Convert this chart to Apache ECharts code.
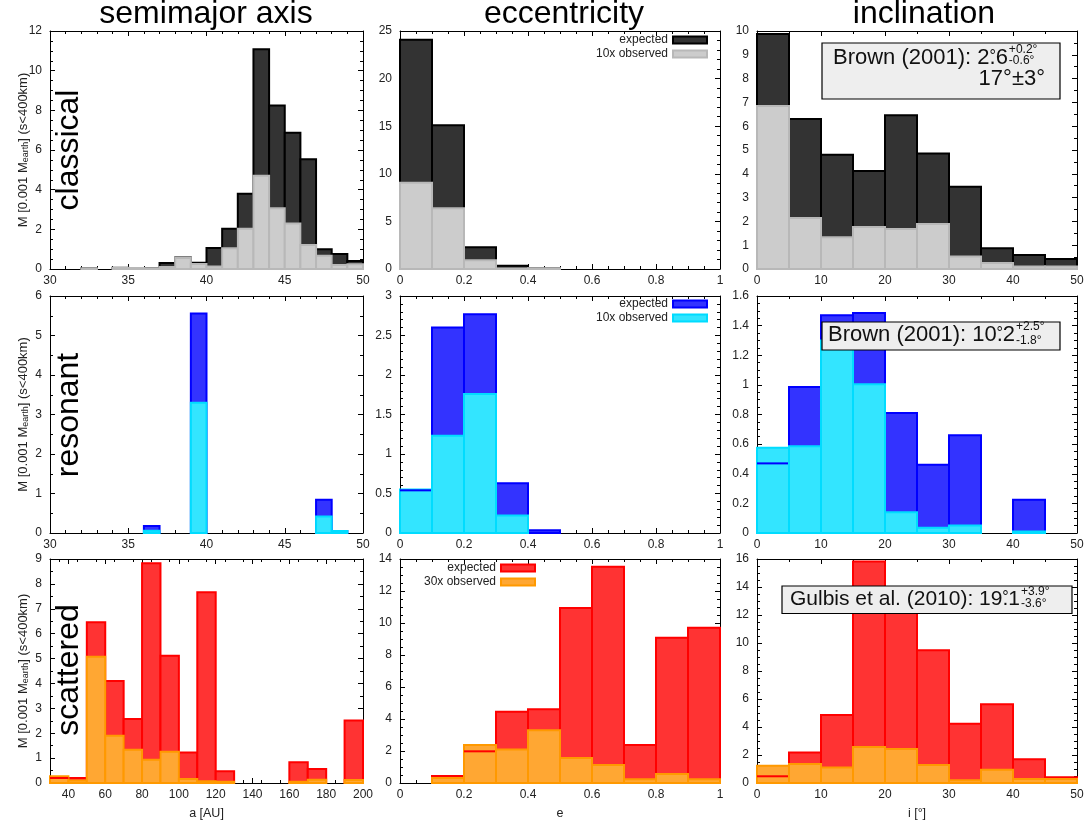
<!DOCTYPE html>
<html>
<head>
<meta charset="utf-8">
<script src="https://cdn.jsdelivr.net/npm/echarts@6/dist/echarts.min.js"></script>
<style>
  html, body { margin: 0; padding: 0; background: #fff; }
  #chart { width: 1089px; height: 827px; }
</style>
</head>
<body>
<div id="chart"></div>
<script>
const FONT = '"Liberation Sans", Arial, Helvetica, sans-serif';

// ---- histogram bins (left edges) ----
const aBins = [30, 31, 32, 33, 34, 35, 36, 37, 38, 39, 40, 41, 42, 43, 44, 45, 46, 47, 48, 49];
const aBinWidth = 1;
const aBinsScattered = [30, 40, 50, 60, 70, 80, 90, 100, 110, 120, 130, 140, 150, 160, 170, 180, 190];
const aBinWidthScattered = 10;
const eBins = [0, 0.1, 0.2, 0.3, 0.4, 0.5, 0.6, 0.7, 0.8, 0.9];
const eBinWidth = 0.1;
const iBins = [0, 5, 10, 15, 20, 25, 30, 35, 40, 45];
const iBinWidth = 5;

// ---- mass per bin, M [0.001 M_earth] ----
const classicalAExpected = [0, 0, 0.03, 0, 0.06, 0.05, 0.03, 0.30, 0.58, 0.32, 1.06, 2.03, 3.80, 11.08, 8.25, 6.87, 5.53, 0.99, 0.76, 0.40];
const classicalAObserved = [0, 0, 0.03, 0, 0.06, 0.05, 0.03, 0.10, 0.55, 0.25, 0.12, 1.04, 2.03, 4.70, 3.06, 2.29, 1.21, 0.67, 0.20, 0.24];
const classicalEExpected = [24.09, 15.09, 2.28, 0.35, 0.07, 0, 0, 0, 0, 0];
const classicalEObserved = [9.07, 6.37, 0.91, 0.05, 0.07, 0, 0, 0, 0, 0];
const classicalIExpected = [9.87, 6.30, 4.80, 4.12, 6.46, 4.85, 3.46, 0.87, 0.59, 0.42];
const classicalIObserved = [6.85, 2.14, 1.33, 1.76, 1.68, 1.89, 0.52, 0.25, 0.10, 0.10];

const resonantAExpected = [0, 0, 0, 0, 0, 0, 0.18, 0, 0, 5.56, 0, 0, 0, 0, 0, 0, 0, 0.84, 0.05, 0];
const resonantAObserved = [0, 0, 0, 0, 0, 0, 0.06, 0, 0, 3.30, 0, 0, 0, 0, 0, 0, 0, 0.42, 0.05, 0];
const resonantEExpected = [0.54, 2.60, 2.77, 0.63, 0.035, 0, 0, 0, 0, 0];
const resonantEObserved = [0.55, 1.23, 1.76, 0.22, 0, 0, 0, 0, 0, 0];
const resonantIExpected = [0.47, 0.985, 1.47, 1.486, 0.81, 0.46, 0.66, 0, 0.225, 0];
const resonantIObserved = [0.575, 0.586, 1.30, 1.005, 0.14, 0.036, 0.05, 0, 0.01, 0];

const scatteredAExpected = [0.20, 0.20, 6.46, 4.10, 2.57, 8.83, 5.11, 1.23, 7.66, 0.47, 0, 0, 0, 0.83, 0.56, 0, 2.51];
const scatteredAObserved = [0.27, 0.10, 5.07, 1.90, 1.34, 0.93, 1.26, 0.16, 0.07, 0.05, 0, 0, 0, 0.05, 0.13, 0, 0.12];
const scatteredEExpected = [0, 0.44, 1.98, 4.46, 4.61, 10.93, 13.52, 2.38, 9.08, 9.70];
const scatteredEObserved = [0, 0.31, 2.38, 2.09, 3.30, 1.56, 1.13, 0.23, 0.56, 0.23];
const scatteredIExpected = [0.48, 2.17, 4.86, 15.83, 13.0, 9.49, 4.24, 5.63, 1.69, 0.41];
const scatteredIObserved = [1.24, 1.36, 1.10, 2.58, 2.43, 1.29, 0.19, 0.95, 0.29, 0.29];

// ---- labels ----
const columnTitles = ['semimajor axis', 'eccentricity', 'inclination'];
const rowNames = ['classical', 'resonant', 'scattered'];
const observedNames = ['10x observed', '10x observed', '30x observed'];
const xAxisNames = ['a [AU]', 'e', 'i [°]'];
const scatteredATicks = [40, 60, 80, 100, 120, 140, 160, 180, 200];

const panels = [
  [
    { bins: aBins, width: aBinWidth, exp: classicalAExpected, obs: classicalAObserved },
    { bins: eBins, width: eBinWidth, exp: classicalEExpected, obs: classicalEObserved },
    { bins: iBins, width: iBinWidth, exp: classicalIExpected, obs: classicalIObserved }
  ],
  [
    { bins: aBins, width: aBinWidth, exp: resonantAExpected, obs: resonantAObserved },
    { bins: eBins, width: eBinWidth, exp: resonantEExpected, obs: resonantEObserved },
    { bins: iBins, width: iBinWidth, exp: resonantIExpected, obs: resonantIObserved }
  ],
  [
    { bins: aBinsScattered, width: aBinWidthScattered, exp: scatteredAExpected, obs: scatteredAObserved },
    { bins: eBins, width: eBinWidth, exp: scatteredEExpected, obs: scatteredEObserved },
    { bins: iBins, width: iBinWidth, exp: scatteredIExpected, obs: scatteredIObserved }
  ]
];

// ---- layout and styling ----
const gridLeft = [50, 400, 757];
const gridWidth = [313, 320, 320];
const gridTop = [31, 296, 559];
const gridHeight = [238, 237, 224];

const xSpecs = [
  [{ min: 30, max: 50, interval: 5, minor: 5 }, { min: 0, max: 1, interval: 0.2, minor: 4 }, { min: 0, max: 50, interval: 10, minor: 2 }],
  [{ min: 30, max: 50, interval: 5, minor: 5 }, { min: 0, max: 1, interval: 0.2, minor: 4 }, { min: 0, max: 50, interval: 10, minor: 2 }],
  [{ min: 30, max: 200, interval: 10, minor: 2, ticks: scatteredATicks }, { min: 0, max: 1, interval: 0.2, minor: 4 }, { min: 0, max: 50, interval: 10, minor: 2 }]
];
const ySpecs = [
  [{ max: 12, interval: 2, minor: 4 }, { max: 25, interval: 5, minor: 5 }, { max: 10, interval: 1, minor: 2 }],
  [{ max: 6, interval: 1, minor: 2 }, { max: 3, interval: 0.5, minor: 5 }, { max: 1.6, interval: 0.2, minor: 4 }],
  [{ max: 9, interval: 1, minor: 2 }, { max: 14, interval: 2, minor: 4 }, { max: 16, interval: 2, minor: 4 }]
];

const palettes = [
  { expFill: '#333333', expStroke: '#000000', obsFill: '#cccccc', obsStroke: '#b8b8b8' },
  { expFill: '#3333ff', expStroke: '#0000ff', obsFill: '#33e5ff', obsStroke: '#00dcff' },
  { expFill: '#ff3333', expStroke: '#ff0000', obsFill: '#ffa733', obsStroke: '#ff9900' }
];

// One rectangle per bin: [left edge, right edge, value, (expected value)]
function histRenderer(fill, stroke, overlayStroke) {
  return function (params, api) {
    const x0 = api.value(0), x1 = api.value(1), v = api.value(2);
    if (!(v > 0)) return null;
    const tl = api.coord([x0, v]);
    const br = api.coord([x1, 0]);
    const children = [{
      type: 'rect',
      shape: { x: tl[0], y: tl[1], width: br[0] - tl[0], height: br[1] - tl[1] },
      style: { fill: fill, stroke: stroke, lineWidth: 2 }
    }];
    if (overlayStroke) {
      const e = api.value(3);
      if (e > 0 && e < v) {
        const a = api.coord([x0, e]);
        const b = api.coord([x1, e]);
        children.push({
          type: 'line',
          shape: { x1: a[0], y1: a[1], x2: b[0], y2: b[1] },
          style: { stroke: overlayStroke, lineWidth: 2 }
        });
      }
    }
    return { type: 'group', children: children };
  };
}

function axisCommon(spec, showLabels) {
  const ax = {
    type: 'value',
    min: spec.min !== undefined ? spec.min : 0,
    max: spec.max,
    interval: spec.interval,
    axisLine: { show: true, onZero: false, lineStyle: { color: '#000', width: 1 } },
    axisTick: { show: true, inside: true, length: 5, lineStyle: { color: '#000', width: 1 } },
    minorTick: { show: true, splitNumber: spec.minor, length: 3, lineStyle: { color: '#000', width: 1 } },
    splitLine: { show: false },
    minorSplitLine: { show: false },
    axisLabel: { show: showLabels, fontSize: 12, color: '#222', fontFamily: FONT }
  };
  if (spec.ticks) {
    ax.axisLabel.customValues = spec.ticks;
    ax.axisTick.customValues = spec.ticks;
  }
  return ax;
}

const grids = [], xAxes = [], yAxes = [], series = [];

for (let r = 0; r < 3; r++) {
  for (let c = 0; c < 3; c++) {
    const g = r * 3 + c;
    grids.push({ left: gridLeft[c], top: gridTop[r], width: gridWidth[c], height: gridHeight[r], containLabel: false });

    const xb = axisCommon(xSpecs[r][c], true);
    xb.gridIndex = g; xb.position = 'bottom';
    xb.axisLabel.margin = 6;
    if (r === 2) {
      xb.name = xAxisNames[c];
      xb.nameLocation = 'middle';
      xb.nameGap = 24;
      xb.nameMoveOverlap = false;
      xb.nameTextStyle = { fontSize: 12.5, color: '#222', fontFamily: FONT };
    }
    const xt = axisCommon(xSpecs[r][c], false);
    xt.gridIndex = g; xt.position = 'top';
    xAxes.push(xb, xt);

    const yl = axisCommon(ySpecs[r][c], true);
    yl.gridIndex = g; yl.position = 'left';
    yl.axisLabel.margin = 8;
    if (c === 0) {
      yl.name = 'M [0.001 M{sub|earth}] (s<400km)';
      yl.nameLocation = 'middle';
      yl.nameGap = 20;
      yl.nameMoveOverlap = false;
      yl.nameRotate = 90;
      yl.nameTextStyle = {
        fontSize: 13, color: '#222', fontFamily: FONT,
        rich: { sub: { fontSize: 9, color: '#222', fontFamily: FONT, verticalAlign: 'bottom', padding: [5, 0, 0, 0] } }
      };
    }
    const yr = axisCommon(ySpecs[r][c], false);
    yr.gridIndex = g; yr.position = 'right';
    yAxes.push(yl, yr);

    const p = panels[r][c];
    const pal = palettes[r];
    const expData = p.bins.map((x, i) => [x, x + p.width, p.exp[i]]);
    const obsData = p.bins.map((x, i) => [x, x + p.width, p.obs[i], p.exp[i]]);
    series.push({
      type: 'custom', name: rowNames[r] + ' expected',
      xAxisIndex: 2 * g, yAxisIndex: 2 * g,
      encode: { x: [0, 1], y: 2 },
      itemStyle: { color: pal.expFill },
      renderItem: histRenderer(pal.expFill, pal.expStroke, null),
      data: expData, z: 2
    });
    series.push({
      type: 'custom', name: rowNames[r] + ' ' + observedNames[r],
      xAxisIndex: 2 * g, yAxisIndex: 2 * g,
      encode: { x: [0, 1], y: 2 },
      itemStyle: { color: pal.obsFill },
      renderItem: histRenderer(pal.obsFill, pal.obsStroke, pal.expStroke),
      data: obsData, z: 3
    });
  }
}

function legendFor(r, pos) {
  const pal = palettes[r];
  return Object.assign({
    orient: 'vertical', align: 'right', padding: 0, itemGap: 2,
    itemWidth: 34, itemHeight: 7, selectedMode: false,
    textStyle: { fontSize: 12, color: '#222', fontFamily: FONT },
    formatter: name => name.slice(name.indexOf(' ') + 1),
    data: [
      { name: rowNames[r] + ' expected', icon: 'rect', itemStyle: { color: pal.expFill, borderColor: pal.expStroke, borderWidth: 2 } },
      { name: rowNames[r] + ' ' + observedNames[r], icon: 'rect', itemStyle: { color: pal.obsFill, borderColor: pal.obsStroke, borderWidth: 2 } }
    ]
  }, pos);
}

const legends = [
  legendFor(0, { right: 381, top: 34 }),
  legendFor(1, { right: 381, top: 298 }),
  legendFor(2, { right: 553, top: 562 })
];

// ---- titles, row labels and literature values ----
const graphics = [];
const titleX = [206, 564, 924];
columnTitles.forEach((t, i) => graphics.push({
  type: 'text', x: titleX[i], y: 14, z: 10,
  style: { text: t, font: '32px ' + FONT, fill: '#000', align: 'center', verticalAlign: 'middle' }
}));
const rowLabelY = [150, 415, 670];
rowNames.forEach((t, i) => graphics.push({
  type: 'text', x: 69, y: rowLabelY[i], rotation: Math.PI / 2, z: 10,
  style: { text: t, font: '32px ' + FONT, fill: '#000', align: 'center', verticalAlign: 'middle' }
}));

const measureCtx = document.createElement('canvas').getContext('2d');
function textWidth(text, font) {
  measureCtx.font = font;
  return measureCtx.measureText(text).width;
}

// Literature value: "<lead><int>°.<frac>" followed by stacked +/- errors
function noteBox(box, note) {
  const font = note.size + 'px ' + FONT;
  const mainText = note.lead + note.whole + '.' + note.frac;
  const preDot = textWidth(note.lead + note.whole, font);
  const dotW = textWidth('.', font);
  const mainW = textWidth(mainText, font);
  const Z = 100;
  const children = [
    { type: 'rect', z: Z, shape: box, style: { fill: '#eeeeee', stroke: '#000', lineWidth: 1.2 } },
    { type: 'text', z: Z + 1, x: note.x, y: note.y,
      style: { text: mainText, font: font, fill: '#111', align: 'left', verticalAlign: 'middle' } },
    { type: 'text', z: Z + 1, x: note.x + preDot + dotW / 2, y: note.y - 1,
      style: { text: '°', font: '16px ' + FONT, fill: '#111', align: 'center', verticalAlign: 'middle' } },
    { type: 'text', z: Z + 1, x: note.x + mainW + 1, y: note.supY,
      style: { text: note.sup, font: '12px ' + FONT, fill: '#111', align: 'left', verticalAlign: 'middle' } },
    { type: 'text', z: Z + 1, x: note.x + mainW + 1, y: note.subY,
      style: { text: note.sub, font: '12px ' + FONT, fill: '#111', align: 'left', verticalAlign: 'middle' } }
  ];
  (note.extra || []).forEach(l => children.push({
    type: 'text', z: Z + 1, x: l.x, y: l.y,
    style: { text: l.text, font: note.size + 'px ' + FONT, fill: '#111', align: 'right', verticalAlign: 'middle' }
  }));
  return { type: 'group', z: Z, children: children };
}

graphics.push(noteBox({ x: 822, y: 43, width: 238, height: 56 }, {
  lead: 'Brown (2001): ', whole: '2', frac: '6', size: 22, x: 833, y: 57.5,
  sup: '+0.2°', sub: '-0.6°', supY: 49.5, subY: 61,
  extra: [{ text: '17°±3°', x: 1045, y: 78.5 }]
}));
graphics.push(noteBox({ x: 822, y: 322, width: 238, height: 28 }, {
  lead: 'Brown (2001): ', whole: '10', frac: '2', size: 22, x: 828, y: 334.5,
  sup: '+2.5°', sub: '-1.8°', supY: 327, subY: 341
}));
graphics.push(noteBox({ x: 782, y: 586, width: 290, height: 27.5 }, {
  lead: 'Gulbis et al. (2010): ', whole: '19', frac: '1', size: 21, x: 790, y: 599,
  sup: '+3.9°', sub: '-3.6°', supY: 591.5, subY: 604
}));

const chart = echarts.init(document.getElementById('chart'), null, { renderer: 'canvas' });
chart.setOption({
  animation: false,
  backgroundColor: '#ffffff',
  textStyle: { fontFamily: FONT },
  grid: grids,
  xAxis: xAxes,
  yAxis: yAxes,
  legend: legends,
  series: series,
  graphic: graphics
});
</script>
</body>
</html>
